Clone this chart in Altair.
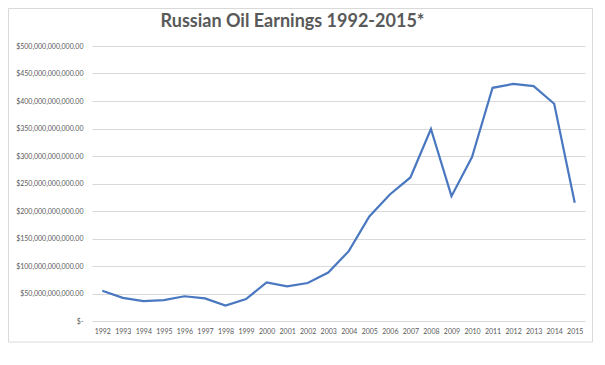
import altair as alt
import pandas as pd

years = [str(y) for y in range(1992, 2016)]
earnings_bn = [55, 42, 36, 38, 45, 41, 28, 40, 70, 63, 69, 88, 127, 190,
               230, 261, 349, 227, 298, 424, 431, 427, 395, 215]

df = pd.DataFrame({"year": years, "earnings": [v * 1e9 for v in earnings_bn]})

W, H = 493, 275
PL, PT, PR, PB = 84, 38, 8, 24
GRID = "#d9d9d9"
TXT = "#595959"
FONT = "Lato"

frame = alt.Chart(pd.DataFrame({"k": [0]})).mark_rect(
    fill="white", fillOpacity=0, stroke=GRID, strokeWidth=1
).encode(
    x=alt.value(-PL + 0.5), x2=alt.value(W + PR - 0.5),
    y=alt.value(-PT + 0.5), y2=alt.value(H + 21)
)

line = alt.Chart(df).mark_line(color="#4a78c0", strokeWidth=2.2).encode(
    x=alt.X("year:O", sort=years,
            scale=alt.Scale(type="point", padding=0.5),
            axis=alt.Axis(title=None, labelAngle=0, domain=False, ticks=False,
                          labelPadding=6, labelFontSize=7, labelColor=TXT,
                          labelFont=FONT, grid=False)),
    y=alt.Y("earnings:Q",
            scale=alt.Scale(domain=[0, 500e9], nice=False),
            axis=alt.Axis(title=None, values=[i * 50e9 for i in range(11)],
                          labelExpr="datum.value == 0 ? '$-' : format(datum.value, '$,.2f')",
                          domain=False, ticks=False, labelPadding=9,
                          labelFontSize=7, labelColor=TXT, labelFont=FONT,
                          gridColor=GRID, gridWidth=1)),
)

chart = alt.layer(frame, line).properties(
    width=W, height=H,
    autosize=alt.AutoSizeParams(type="none"),
    padding={"left": PL, "top": PT, "right": PR, "bottom": PB},
    background="white",
    title=alt.TitleParams(
        "Russian Oil Earnings 1992-2015*", fontSize=18, font=FONT,
        fontWeight="bold", color=TXT, anchor="middle", frame="group",
        dx=-46, dy=23, offset=0,
    ),
).configure_view(stroke=None)

chart.save("out.html", embed_options={"renderer": "svg", "actions": False})
